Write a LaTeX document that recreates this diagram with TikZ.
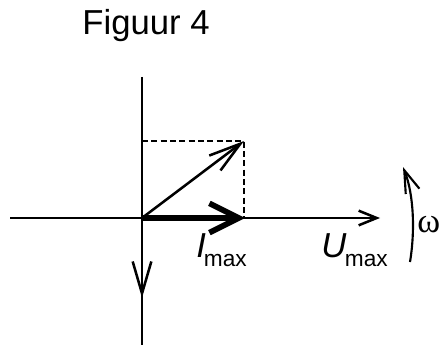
\documentclass[tikz,border=0pt]{standalone}
\usepackage{fontspec}
\setmainfont{Liberation Sans}
\newfontfamily\omegafont{Liberation Serif}
\usetikzlibrary{arrows.meta}

\begin{document}
\begin{tikzpicture}[x=0.75pt, y=-0.75pt,
        axis/.style={line width=1.9pt},
        arr/.style={line width=1.9pt, -{Straight Barb[length=13.5pt, width=11pt]}},
        longarr/.style={line width=1.9pt, -{Straight Barb[length=24pt, width=14pt]}},
        bigarr/.style={line width=4.2pt, -{Straight Barb[length=22pt, width=22pt]}},
        guide/.style={line width=1.5pt, dash pattern=on 4.5pt off 2.5pt},
        lbl/.style={inner sep=0pt, font=\fontsize{26}{30}\selectfont}
      ]
        \useasboundingbox (0,0) rectangle (441,345);
        % points
        \coordinate (O)      at (142,218);
        \coordinate (left)   at (10,218);
        \coordinate (right)  at (380,218);
        \coordinate (top)    at (142,77);
        \coordinate (bottom) at (142,345);
        \coordinate (res)    at (244,141);
        \coordinate (itip)   at (245,218);
        \coordinate (down)   at (142,298);
        \coordinate (corner) at (142,141);
        \coordinate (foot)   at (244,218);
        \coordinate (wlow)   at (410,262);
        \coordinate (whigh)  at (403,167);

        \node[lbl, anchor=base] (title) at (146,35) {Figuur 4};

        % axes
        \draw[axis] (top) -- (bottom);
        \draw[arr] (left) -- (right);
        \draw[guide] (corner) -- (res) -- (foot);
        \draw[longarr] (O) -- (res);
        \draw[longarr] (O) -- (down);
        \draw[bigarr] (O) -- (itip);
        \draw[line width=1.6pt, -{Straight Barb[length=17pt, width=11pt]}]
          (wlow) .. controls (415,232) and (414,195) .. (whigh);

        % labels
        \node[lbl, anchor=base west] (imax) at (196,257)
          {\itshape I\kern-1.5pt\raisebox{-6.8pt}{\upshape\fontsize{17}{20}\selectfont max}};
        \node[lbl, anchor=base west] (umax) at (321,257)
          {\itshape U\kern-1pt\raisebox{-6.8pt}{\upshape\fontsize{17}{20}\selectfont max}};
        \node[lbl, anchor=base west] (omega) at (417,232) {\omegafont\fontsize{26}{30}\selectfont ω};
\end{tikzpicture}
\end{document}
